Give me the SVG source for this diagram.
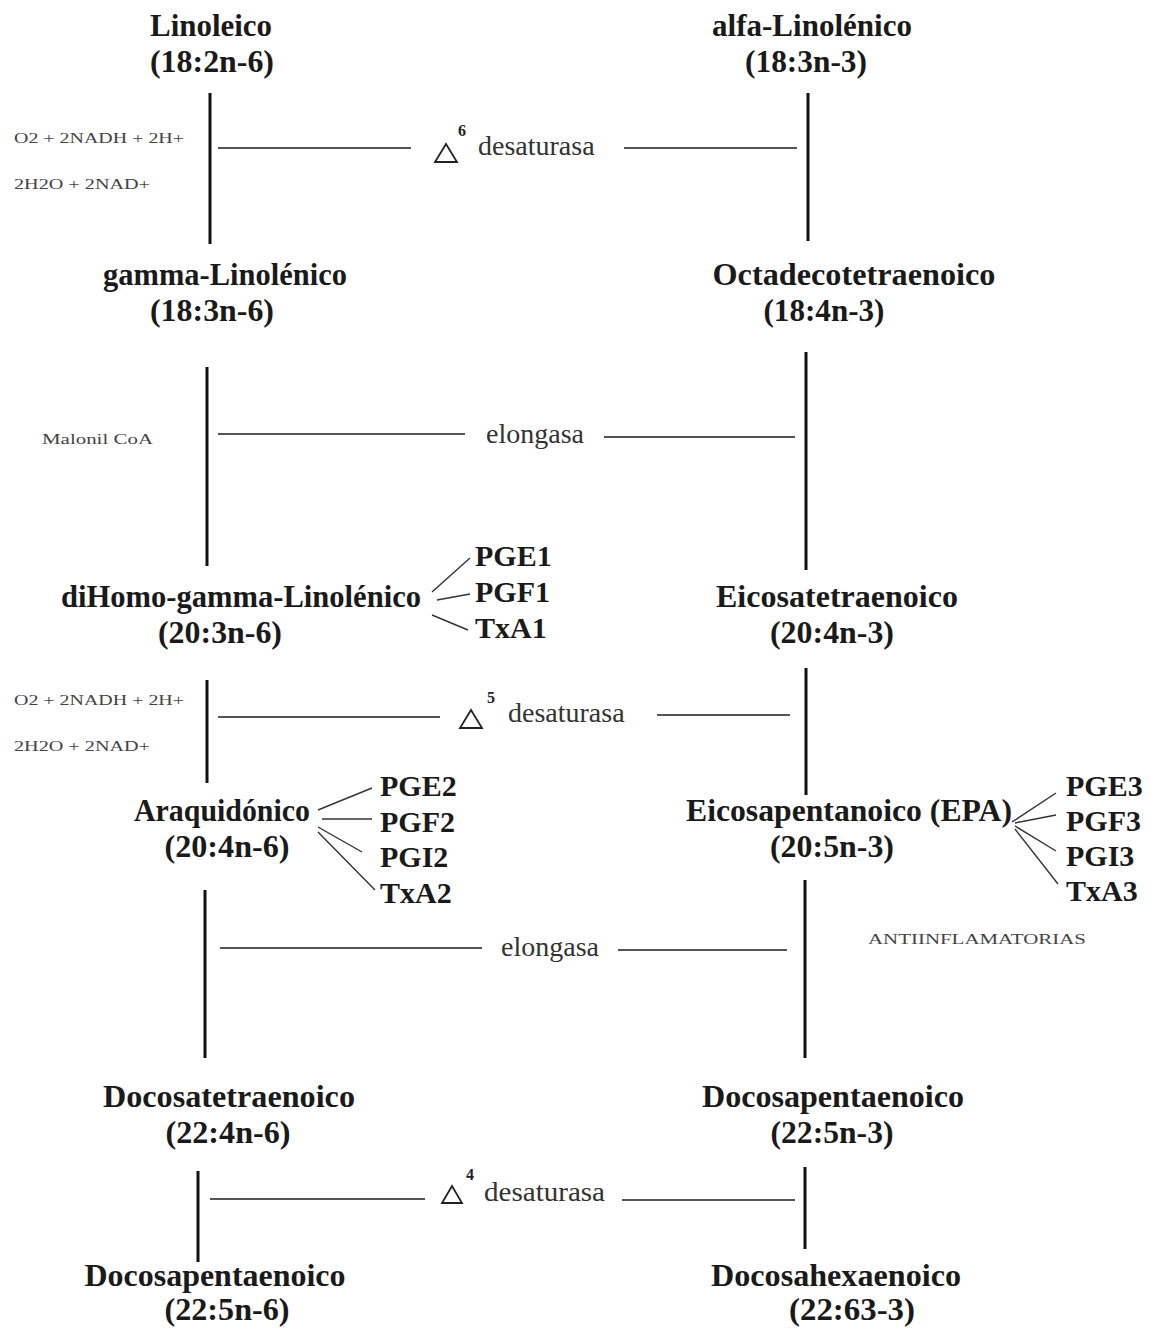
<svg xmlns="http://www.w3.org/2000/svg" width="1151" height="1328" viewBox="0 0 1151 1328">
<style>
.n{font-family:"Liberation Serif","Times New Roman",serif;font-weight:bold;font-size:31px;fill:#1a1a1a;text-anchor:middle}
.pg{font-family:"Liberation Serif","Times New Roman",serif;font-weight:bold;font-size:30px;fill:#1a1a1a}
.enz{font-family:"Liberation Serif","Times New Roman",serif;font-size:28px;fill:#333}
.sup{font-family:"Liberation Serif","Times New Roman",serif;font-weight:bold;font-size:16px;fill:#222}
.sm{font-family:"Liberation Serif","Times New Roman",serif;font-size:15px;fill:#444}
.v{stroke:#111;stroke-width:3;fill:none}
.h{stroke:#555;stroke-width:2;fill:none}
.b{stroke:#333;stroke-width:1.4;fill:none}
.tri{stroke:#222;stroke-width:1.8;fill:none}
</style>
<rect width="1151" height="1328" fill="#fff"/>

<g id="linoleico"><text class="n" x="211" y="36" textLength="122" lengthAdjust="spacingAndGlyphs">Linoleico</text><text class="n" x="212" y="72" textLength="124" lengthAdjust="spacingAndGlyphs">(18:2n-6)</text></g>
<g id="alfa-linolenico"><text class="n" x="812" y="36" textLength="200" lengthAdjust="spacingAndGlyphs">alfa-Linolénico</text><text class="n" x="806" y="72" textLength="122" lengthAdjust="spacingAndGlyphs">(18:3n-3)</text></g>
<g id="gamma-linolenico"><text class="n" x="225" y="285" textLength="244" lengthAdjust="spacingAndGlyphs">gamma-Linolénico</text><text class="n" x="212" y="321" textLength="124" lengthAdjust="spacingAndGlyphs">(18:3n-6)</text></g>
<g id="octadecotetraenoico"><text class="n" x="854" y="285" textLength="283" lengthAdjust="spacingAndGlyphs">Octadecotetraenoico</text><text class="n" x="824" y="321" textLength="121" lengthAdjust="spacingAndGlyphs">(18:4n-3)</text></g>
<g id="dihomo"><text class="n" x="241" y="607" textLength="360" lengthAdjust="spacingAndGlyphs">diHomo-gamma-Linolénico</text><text class="n" x="220" y="643" textLength="124" lengthAdjust="spacingAndGlyphs">(20:3n-6)</text></g>
<g id="eicosatetraenoico"><text class="n" x="837" y="607" textLength="242" lengthAdjust="spacingAndGlyphs">Eicosatetraenoico</text><text class="n" x="832" y="643" textLength="124" lengthAdjust="spacingAndGlyphs">(20:4n-3)</text></g>
<g id="araquidonico"><text class="n" x="222" y="821" textLength="176" lengthAdjust="spacingAndGlyphs">Araquidónico</text><text class="n" x="227" y="857" textLength="125" lengthAdjust="spacingAndGlyphs">(20:4n-6)</text></g>
<g id="epa"><text class="n" x="849" y="821" textLength="326" lengthAdjust="spacingAndGlyphs">Eicosapentanoico (EPA)</text><text class="n" x="832" y="857" textLength="124" lengthAdjust="spacingAndGlyphs">(20:5n-3)</text></g>
<g id="docosatetraenoico"><text class="n" x="229" y="1107" textLength="252" lengthAdjust="spacingAndGlyphs">Docosatetraenoico</text><text class="n" x="228" y="1143" textLength="125" lengthAdjust="spacingAndGlyphs">(22:4n-6)</text></g>
<g id="docosapentaenoico-n3"><text class="n" x="833" y="1107" textLength="262" lengthAdjust="spacingAndGlyphs">Docosapentaenoico</text><text class="n" x="832" y="1143" textLength="123" lengthAdjust="spacingAndGlyphs">(22:5n-3)</text></g>
<g id="docosapentaenoico-n6"><text class="n" x="215" y="1286" textLength="261" lengthAdjust="spacingAndGlyphs">Docosapentaenoico</text><text class="n" x="227" y="1320" textLength="125" lengthAdjust="spacingAndGlyphs">(22:5n-6)</text></g>
<g id="docosahexaenoico"><text class="n" x="836" y="1286" textLength="250" lengthAdjust="spacingAndGlyphs">Docosahexaenoico</text><text class="n" x="852" y="1320" textLength="126" lengthAdjust="spacingAndGlyphs">(22:63-3)</text></g>

<g id="eicosanoids-1"><text class="pg" x="475" y="566">PGE1</text><text class="pg" x="475" y="602">PGF1</text><text class="pg" x="475" y="638">TxA1</text></g>
<g id="eicosanoids-2"><text class="pg" x="380" y="796">PGE2</text><text class="pg" x="380" y="832">PGF2</text><text class="pg" x="380" y="867">PGI2</text><text class="pg" x="380" y="903">TxA2</text></g>
<g id="eicosanoids-3"><text class="pg" x="1066" y="796">PGE3</text><text class="pg" x="1066" y="831">PGF3</text><text class="pg" x="1066" y="866">PGI3</text><text class="pg" x="1066" y="901">TxA3</text></g>

<g id="cofactors">
<text class="sm" x="14" y="143" textLength="170" lengthAdjust="spacingAndGlyphs">O2 + 2NADH + 2H+</text>
<text class="sm" x="14" y="189" textLength="136" lengthAdjust="spacingAndGlyphs">2H2O + 2NAD+</text>
<text class="sm" x="42" y="444" textLength="111" lengthAdjust="spacingAndGlyphs">Malonil CoA</text>
<text class="sm" x="14" y="705" textLength="170" lengthAdjust="spacingAndGlyphs">O2 + 2NADH + 2H+</text>
<text class="sm" x="14" y="751" textLength="136" lengthAdjust="spacingAndGlyphs">2H2O + 2NAD+</text>
<text class="sm" x="868" y="944" textLength="218" lengthAdjust="spacingAndGlyphs">ANTIINFLAMATORIAS</text>
</g>

<g id="enzymes">
<polygon class="tri" points="446,144 435,162 457,162"/><text class="sup" x="458" y="136">6</text><text class="enz" x="478" y="155">desaturasa</text>
<text class="enz" x="486" y="443">elongasa</text>
<polygon class="tri" points="471,710 460,728 482,728"/><text class="sup" x="487" y="703">5</text><text class="enz" x="508" y="722">desaturasa</text>
<text class="enz" x="501" y="956">elongasa</text>
<polygon class="tri" points="452,1186 442,1203 462,1203"/><text class="sup" x="466" y="1180">4</text><text class="enz" x="484" y="1201" textLength="121" lengthAdjust="spacingAndGlyphs">desaturasa</text>
</g>

<g id="connectors">
<line class="v" x1="210" y1="93" x2="210" y2="244"/>
<line class="v" x1="808" y1="93" x2="808" y2="241"/>
<line class="h" x1="218" y1="148" x2="411" y2="148"/>
<line class="h" x1="624" y1="148" x2="797" y2="148"/>

<line class="v" x1="207" y1="367" x2="207" y2="566"/>
<line class="v" x1="806" y1="352" x2="806" y2="570"/>
<line class="h" x1="218" y1="434" x2="465" y2="434"/>
<line class="h" x1="604" y1="437" x2="795" y2="437"/>

<line class="v" x1="207" y1="680" x2="207" y2="783"/>
<line class="v" x1="806" y1="668" x2="806" y2="795"/>
<line class="h" x1="218" y1="717" x2="440" y2="717"/>
<line class="h" x1="657" y1="715" x2="790" y2="715"/>

<line class="v" x1="205" y1="890" x2="205" y2="1058"/>
<line class="v" x1="805" y1="880" x2="805" y2="1058"/>
<line class="h" x1="220" y1="948" x2="482" y2="948"/>
<line class="h" x1="618" y1="950" x2="787" y2="950"/>

<line class="v" x1="198" y1="1171" x2="198" y2="1262"/>
<line class="v" x1="805" y1="1167" x2="805" y2="1249"/>
<line class="h" x1="210" y1="1199" x2="425" y2="1199"/>
<line class="h" x1="622" y1="1200" x2="795" y2="1200"/>

<line class="b" x1="432" y1="592" x2="470" y2="558"/>
<line class="b" x1="437" y1="600" x2="470" y2="594"/>
<line class="b" x1="432" y1="615" x2="468" y2="630"/>

<line class="b" x1="318" y1="810" x2="372" y2="788"/>
<line class="b" x1="322" y1="819" x2="372" y2="819"/>
<line class="b" x1="318" y1="827" x2="362" y2="852"/>
<line class="b" x1="318" y1="832" x2="375" y2="890"/>

<line class="b" x1="1012" y1="822" x2="1056" y2="793"/>
<line class="b" x1="1015" y1="823" x2="1056" y2="815"/>
<line class="b" x1="1015" y1="826" x2="1056" y2="851"/>
<line class="b" x1="1015" y1="829" x2="1058" y2="884"/>
</g>
</svg>
